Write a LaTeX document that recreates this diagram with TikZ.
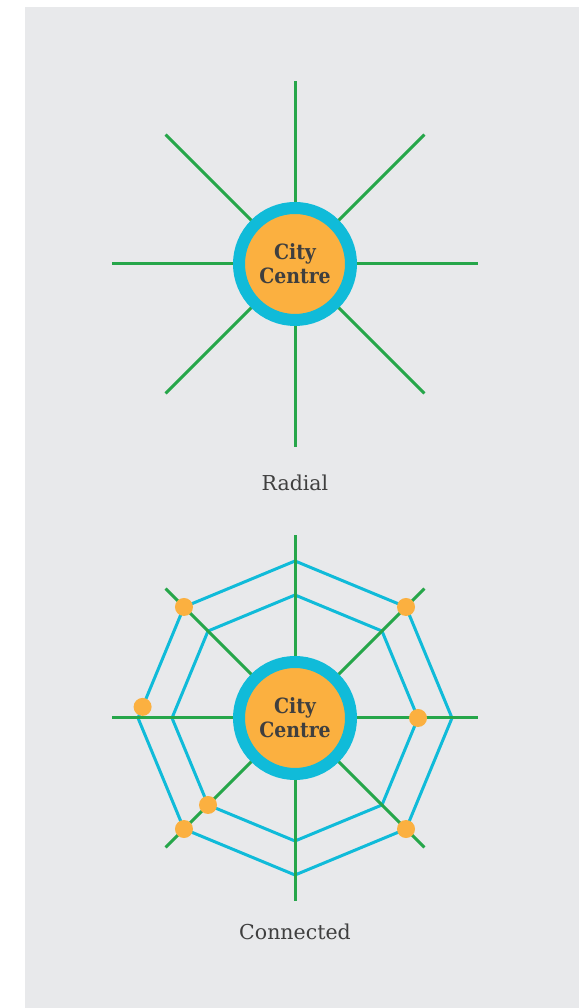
\documentclass[tikz,border=0pt]{standalone}
\usepackage{fontspec}
\setmainfont{DejaVu Serif}
\newfontfamily\hubfont{DejaVu Serif Condensed}
\usepackage{tikz}
\usetikzlibrary{calc}
\definecolor{bggray}{HTML}{E8E9EB}
\definecolor{linegreen}{HTML}{26A64A}
\definecolor{ringblue}{HTML}{10BBD9}
\definecolor{stopgold}{HTML}{FBB040}
\definecolor{textgray}{HTML}{3F3F3F}

\begin{document}
\begin{tikzpicture}[x=1pt, y=1pt,
  road/.style={line width=3pt, linegreen},
  ring/.style={line width=3pt, ringblue, line join=miter},
  centre/.style={circle, draw=ringblue, line width=12pt, fill=stopgold,
    minimum size=112pt, inner sep=0pt, text=textgray, align=center,
    font=\hubfont\bfseries\fontsize{21}{24}\selectfont},
  stop/.style={circle, fill=stopgold, minimum size=18pt, inner sep=0pt},
  caption/.style={text=textgray, font=\fontsize{20.5}{24}\selectfont}]
  \useasboundingbox (0,0) rectangle (579,1008);
  \fill[bggray] (25,0) rectangle (579,1001);

  % Radial
  \node[centre] (hubA) at (295,744) {City\\Centre};
  \foreach \a in {0,45,...,315} {
    \coordinate (rA\a) at ($(hubA.center)+(\a:183)$);
    \draw[road] (hubA.\a) -- (rA\a);
  }
  \node[caption] (capA) at (295,525) {Radial};

  % Connected
  \node[centre] (hubB) at (295,290) {City\\Centre};
  \foreach \a in {0,45,...,315} {
    \coordinate (rB\a) at ($(hubB.center)+(\a:183)$);
    \coordinate (o\a) at ($(hubB.center)+(\a:157)$);
    \coordinate (i\a) at ($(hubB.center)+(\a:123)$);
  }
  \draw[ring] (o0) \foreach \a in {45,90,...,315} { -- (o\a) } -- cycle;
  \draw[ring] (i0) \foreach \a in {45,90,...,315} { -- (i\a) } -- cycle;
  \foreach \a in {0,45,...,315}
    \draw[road] (hubB.\a) -- (rB\a);

  % Stations
  \foreach \p [count=\k] in {o45,o135,o225,o315,i0,i225}
    \node[stop] (stop\k) at (\p) {};
  \node[stop] (stop7) at ($(o180)!0.1!(o135)$) {};
  \node[caption] (capB) at (295,76) {Connected};
\end{tikzpicture}
\end{document}
